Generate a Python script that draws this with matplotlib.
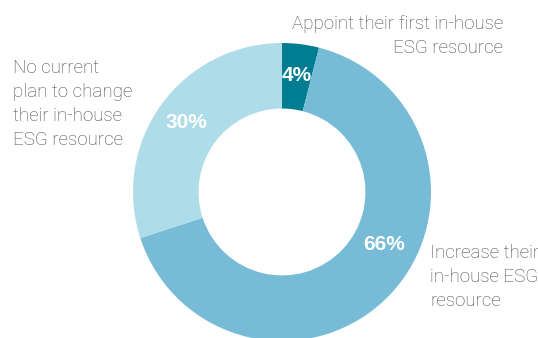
import matplotlib
matplotlib.use("Agg")
import matplotlib.pyplot as plt
import numpy as np

# share of firms by planned change to in-house ESG resource
categories = [
    "Appoint their first in-house\nESG resource",
    "Increase their\nin-house ESG\nresource",
    "No current\nplan to change\ntheir in-house\nESG resource",
]
shares = [4, 66, 30]
colors = ["#007D91", "#77BBD6", "#AEDDE9"]

W, H = 538, 338
fig = plt.figure(figsize=(W / 100, H / 100), dpi=100)

# donut centre and radius in pixels
cx, cy, R = 282, 192, 149
ax = fig.add_axes([(cx - R) / W, (H - cy - R) / H, 2 * R / W, 2 * R / H])

wedges, _, pcts = ax.pie(
    shares,
    colors=colors,
    startangle=90,
    counterclock=False,
    radius=1.0,
    wedgeprops=dict(width=0.44, linewidth=0),
    autopct="%d%%",
    pctdistance=0.79,
    textprops=dict(color="white", fontsize=15, fontweight="bold",
                   family=["Liberation Sans", "DejaVu Sans"]),
)
ax.set_xlim(-1, 1)
ax.set_ylim(-1, 1)
ax.set_aspect("equal")

# nudge the large slice's label towards the right side
ang = np.deg2rad(-27)
pcts[1].set_position((0.77 * np.cos(ang), 0.77 * np.sin(ang)))

txt = dict(fontsize=13.5, color="#4a4a4a", fontweight="light",
           family=["Roboto", "DejaVu Sans"],
           linespacing=1.42)


def px(x, y):
    return x / W, 1 - y / H


fig.text(*px(503, 15), categories[0], ha="right", va="top", **txt)
fig.text(*px(430, 244), categories[1], ha="left", va="top", **txt)
fig.text(*px(13, 59), categories[2], ha="left", va="top", **txt)

fig.savefig("out.png", dpi=100)
